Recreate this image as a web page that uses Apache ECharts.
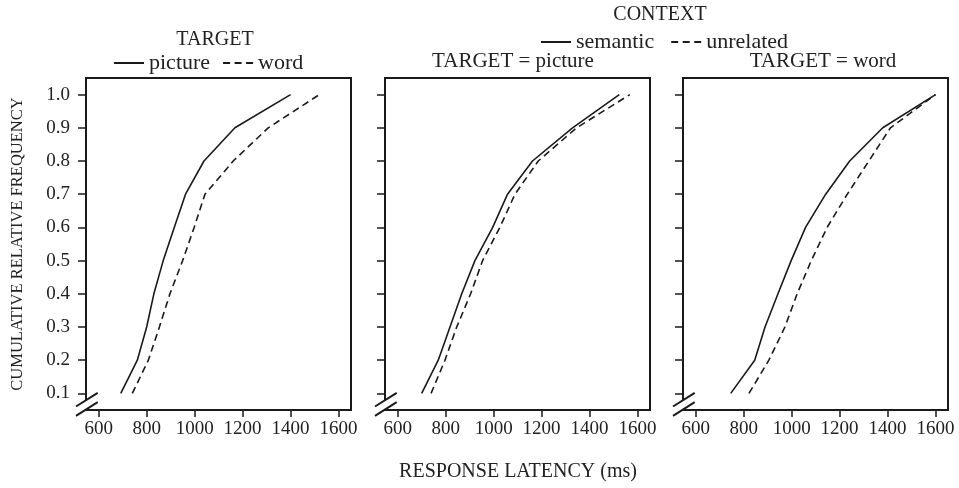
<!DOCTYPE html>
<html><head><meta charset="utf-8">
<script src="https://cdn.jsdelivr.net/npm/echarts@6/dist/echarts.min.js"></script>
<style>html,body{margin:0;padding:0;background:#fff}#c{width:959px;height:488px}</style>
</head><body><div id="c"></div>
<script>
// ---- data ----
const levels = [0.1, 0.2, 0.3, 0.4, 0.5, 0.6, 0.7, 0.8, 0.9, 1.0];
const xTicks = [600, 800, 1000, 1200, 1400, 1600];
const yTicks = [0.1, 0.2, 0.3, 0.4, 0.5, 0.6, 0.7, 0.8, 0.9, 1.0];
// Panel 1: by TARGET
const p1Picture = [692, 761, 800, 830, 869, 915, 962, 1039, 1168, 1400];
const p1Word    = [740, 807, 853, 897, 950, 998, 1043, 1161, 1307, 1520];
// Panel 2: TARGET = picture, by CONTEXT
const p2Semantic  = [700, 769, 818, 867, 922, 996, 1058, 1162, 1329, 1524];
const p2Unrelated = [739, 797, 846, 904, 954, 1026, 1089, 1186, 1346, 1568];
// Panel 3: TARGET = word, by CONTEXT
const p3Semantic  = [746, 846, 889, 943, 998, 1058, 1142, 1242, 1380, 1600];
const p3Unrelated = [822, 905, 972, 1023, 1082, 1148, 1232, 1322, 1412, 1600];

// ---- style ----
const FONT = 'Liberation Serif';
const INK = '#1a1a1a';
const X_MIN = 547, X_MAX = 1652, Y_MIN = 0.05, Y_MAX = 1.05;
const gridDefs = [
  {left: 86, top: 78, width: 265, height: 332},
  {left: 385, top: 78, width: 265, height: 332},
  {left: 683, top: 78, width: 265, height: 332}
];

function pairs(xs) { return xs.map((x, i) => [x, levels[i]]); }

const chart = echarts.init(document.getElementById('c'), null, {renderer: 'canvas'});

const xAxes = gridDefs.map((g, i) => ({
  type: 'value', gridIndex: i, min: X_MIN, max: X_MAX,
  splitLine: {show: false},
  axisLine: {show: false},
  axisTick: {show: true, inside: false, length: 7, customValues: xTicks, lineStyle: {color: INK, width: 1.5}},
  axisLabel: {show: true, customValues: xTicks, margin: 10, color: '#222', fontFamily: FONT, fontSize: 19,
              formatter: v => String(Math.round(v))}
}));
const yAxes = gridDefs.map((g, i) => ({
  type: 'value', gridIndex: i, min: Y_MIN, max: Y_MAX,
  splitLine: {show: false},
  axisLine: {show: false},
  axisTick: {show: true, inside: false, length: 8, customValues: yTicks, lineStyle: {color: INK, width: 1.5}},
  axisLabel: {show: i === 0, customValues: yTicks, margin: 16, color: '#222', fontFamily: FONT, fontSize: 19,
              formatter: v => v.toFixed(1)},
  name: i === 0 ? 'CUMULATIVE RELATIVE FREQUENCY' : '',
  nameLocation: 'middle', nameRotate: 90, nameGap: 60,
  nameTextStyle: {color: '#222', fontFamily: FONT, fontSize: 16.5}
}));

function lineSeries(name, idx, xs, dashed) {
  return {
    name, type: 'line', xAxisIndex: idx, yAxisIndex: idx, data: pairs(xs),
    symbol: 'none', smooth: false, animation: false,
    lineStyle: {color: INK, width: 1.6, type: dashed ? [7, 4.5] : 'solid'},
    itemStyle: {color: INK}
  };
}

const titleStyle = {color: '#222', fontFamily: FONT, fontSize: 20, fontWeight: 'normal'};
const subStyle = {color: '#222', fontFamily: FONT, fontSize: 21, fontWeight: 'normal'};
const legendText = {color: '#222', fontFamily: FONT, fontSize: 22};

const option = {
  backgroundColor: '#fff',
  animation: false,
  grid: gridDefs.map(g => Object.assign({show: true, borderColor: INK, borderWidth: 2, backgroundColor: 'transparent'}, g)),
  xAxis: xAxes,
  yAxis: yAxes,
  title: [
    {text: 'TARGET', left: 215, top: 30, textAlign: 'center', textStyle: titleStyle, padding: 0},
    {text: 'CONTEXT', left: 660, top: 5, textAlign: 'center', textStyle: titleStyle, padding: 0},
    {text: 'TARGET = picture', left: 513, top: 51, textAlign: 'center', textStyle: subStyle, padding: 0},
    {text: 'TARGET = word', left: 823, top: 51, textAlign: 'center', textStyle: subStyle, padding: 0},
    {text: 'RESPONSE LATENCY (ms)', left: 518, top: 462, textAlign: 'center', textStyle: titleStyle, padding: 0}
  ],
  legend: [
    {data: ['picture', 'word'], left: 113, top: 52, padding: 0, itemWidth: 30, itemHeight: 14, itemGap: 12,
     itemStyle: {opacity: 0}, textStyle: legendText, selectedMode: false},
    {data: ['semantic', 'unrelated'], left: 540, top: 31, padding: 0, itemWidth: 30, itemHeight: 14, itemGap: 16,
     itemStyle: {opacity: 0}, textStyle: legendText, selectedMode: false}
  ],
  series: [
    lineSeries('picture', 0, p1Picture, false),
    lineSeries('word', 0, p1Word, true),
    lineSeries('semantic', 1, p2Semantic, false),
    lineSeries('unrelated', 1, p2Unrelated, true),
    lineSeries('semantic', 2, p3Semantic, false),
    lineSeries('unrelated', 2, p3Unrelated, true)
  ]
};
chart.setOption(option);

// axis-break marks at each lower-left corner
const gfx = [];
gridDefs.forEach((g, i) => {
  const c = chart.convertToPixel({gridIndex: i}, [X_MIN, Y_MIN]);
  const cx = c[0], cy = c[1];
  gfx.push({type: 'polygon', z: 100, silent: true,
    shape: {points: [[cx - 10, cy - 3.5], [cx + 11.7, cy - 17.2], [cx + 11.7, cy - 7.8], [cx - 10, cy + 5.8]]},
    style: {fill: '#fff'}});
  gfx.push({type: 'line', z: 101, silent: true,
    shape: {x1: cx - 10, y1: cy - 3.5, x2: cx + 11.7, y2: cy - 17.2}, style: {stroke: INK, lineWidth: 2}});
  gfx.push({type: 'line', z: 101, silent: true,
    shape: {x1: cx - 10, y1: cy + 5.8, x2: cx + 11.7, y2: cy - 7.8}, style: {stroke: INK, lineWidth: 2}});
});
chart.setOption({graphic: gfx});
</script></body></html>
